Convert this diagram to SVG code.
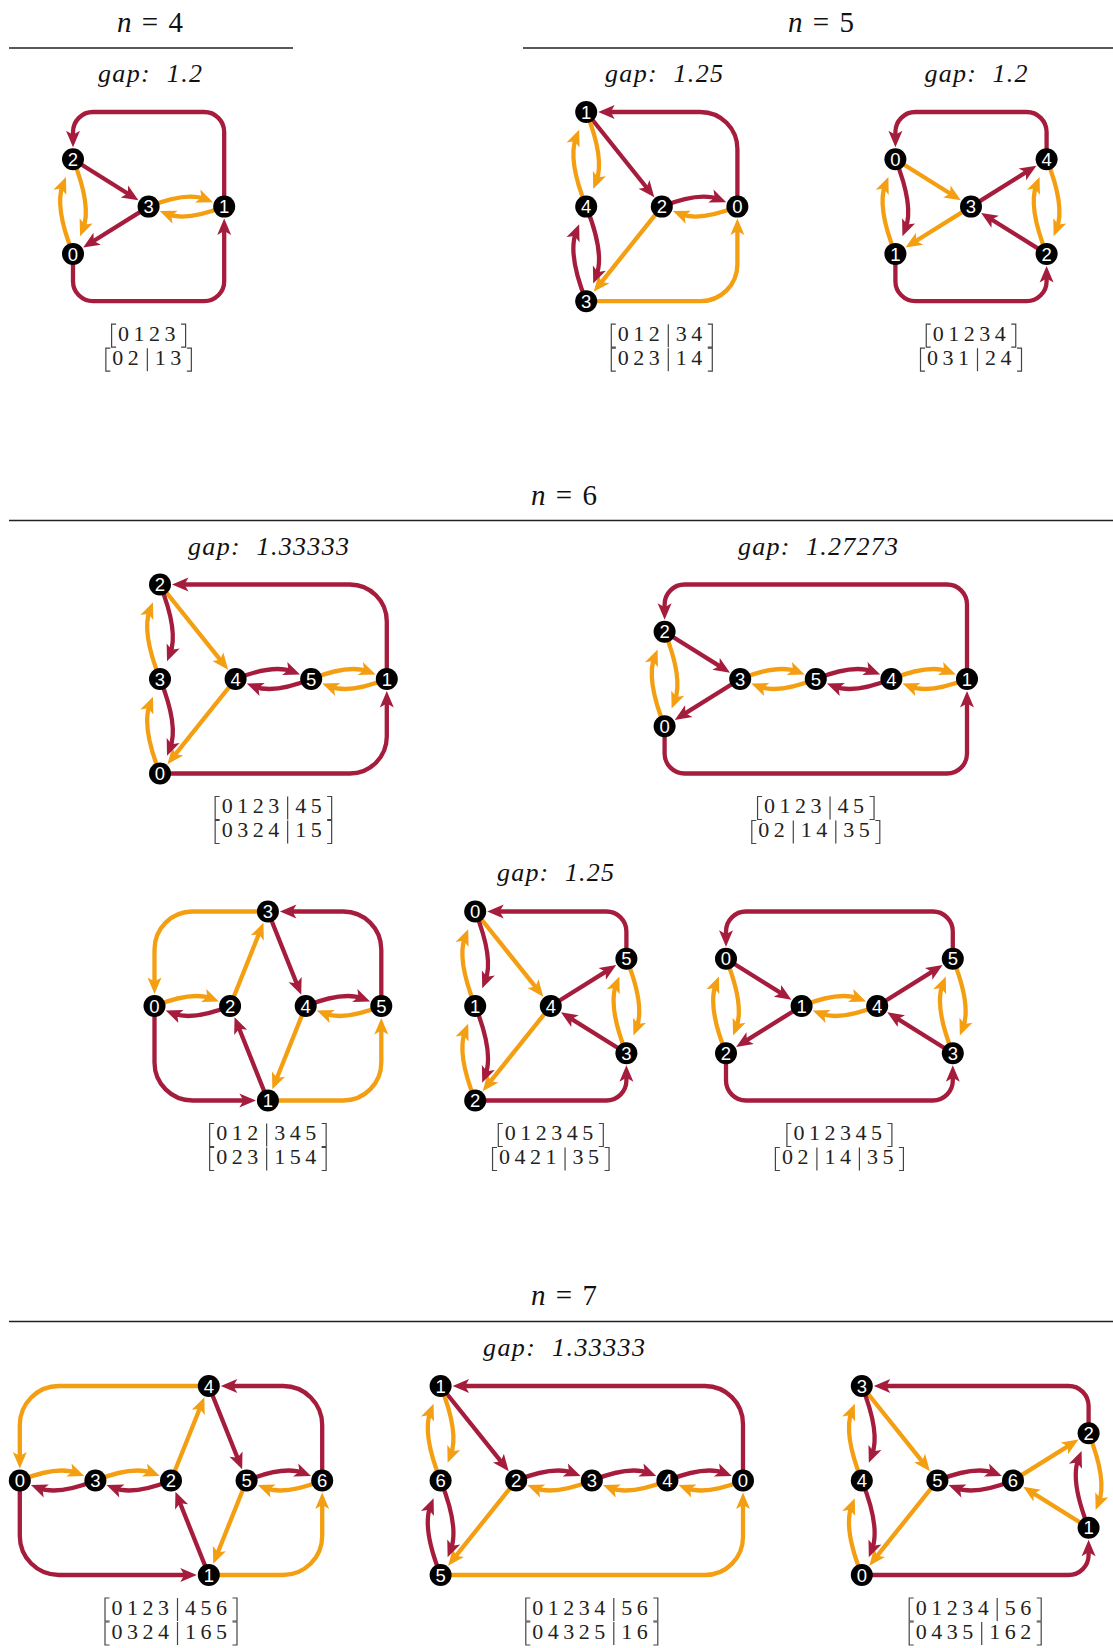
<svg xmlns="http://www.w3.org/2000/svg" xmlns:xlink="http://www.w3.org/1999/xlink" width="1113" height="1648" viewBox="0 0 1113 1648">
<style>
.e{fill:none;stroke-width:4.3}
.r{stroke:#a51c3c;marker-end:url(#ar)}
.o{stroke:#f49e12;marker-end:url(#ao)}
.nd circle{fill:#000}
.nd text{fill:#fff;font-family:"Liberation Sans",Arial,sans-serif;font-size:18.5px;text-anchor:middle}
.hd{font-family:"Liberation Serif",serif;font-size:29px;word-spacing:3px;text-anchor:middle;fill:#111}
.gp{font-family:"Liberation Serif",serif;font-style:italic;font-size:26px;text-anchor:middle;fill:#111}
.rule{stroke:#222;stroke-width:1.4}
.mx text{font-family:"Liberation Serif",serif;font-size:22px;letter-spacing:4.5px;fill:#222}
</style>
<defs>
<marker id="ar" viewBox="-18 -9 28 18" refX="-8" refY="0" markerWidth="28" markerHeight="18" markerUnits="userSpaceOnUse" orient="auto" overflow="visible"><path d="M0,0L-16.5,-7L-12.5,0L-16.5,7Z" fill="#a51c3c"/></marker>
<marker id="ao" viewBox="-18 -9 28 18" refX="-8" refY="0" markerWidth="28" markerHeight="18" markerUnits="userSpaceOnUse" orient="auto" overflow="visible"><path d="M0,0L-16.5,-7L-12.5,0L-16.5,7Z" fill="#f49e12"/></marker>
<path id="lb" d="M4.5,-16.5H0V6.5H4.5" fill="none" stroke="#444" stroke-width="1.2"/>
<path id="rb" d="M-4.5,-16.5H0V6.5H-4.5" fill="none" stroke="#444" stroke-width="1.2"/>
<path id="bar" d="M0,-16.5V6.5" fill="none" stroke="#444" stroke-width="1.2"/>
</defs>
<rect width="1113" height="1648" fill="#fff"/>

<!-- section headings and rules -->
<g id="headings">
<text class="hd" x="150" y="32"><tspan font-style="italic">n</tspan> = 4</text>
<text class="hd" x="821" y="32"><tspan font-style="italic">n</tspan> = 5</text>
<text class="hd" x="564" y="504.5"><tspan font-style="italic">n</tspan> = 6</text>
<text class="hd" x="564" y="1305"><tspan font-style="italic">n</tspan> = 7</text>
<line class="rule" x1="9" y1="48" x2="293" y2="48"/>
<line class="rule" x1="523" y1="48" x2="1113" y2="48"/>
<line class="rule" x1="9" y1="520.5" x2="1113" y2="520.5"/>
<line class="rule" x1="9" y1="1321.5" x2="1113" y2="1321.5"/>
<text class="gp" x="150" y="82" textLength="104">gap:&#160;&#160;1.2</text>
<text class="gp" x="664" y="82" textLength="118">gap:&#160;&#160;1.25</text>
<text class="gp" x="976" y="82" textLength="103">gap:&#160;&#160;1.2</text>
<text class="gp" x="268.5" y="554.5" textLength="161">gap:&#160;&#160;1.33333</text>
<text class="gp" x="818" y="554.5" textLength="160">gap:&#160;&#160;1.27273</text>
<text class="gp" x="555.5" y="881" textLength="117">gap:&#160;&#160;1.25</text>
<text class="gp" x="564" y="1356" textLength="162">gap:&#160;&#160;1.33333</text>
</g>

<g id="connectors">
<!-- n=4 -->
<g id="c1">
<path class="e r" d="M224.2,206.6V132A20,20 0 0 0 204.2,112H93A20,20 0 0 0 73,132V139.3"/>
<path class="e r" d="M73,253.9V281.2A20,20 0 0 0 93,301.2H204.2A20,20 0 0 0 224.2,281.2V226.6"/>
<path class="e r" d="M73,159.3L131.65,195.99"/>
<path class="e r" d="M148.6,206.6L89.95,243.29"/>
<path class="e o" d="M148.6,206.6Q186.4,191.5 205.6,199.2"/>
<path class="e o" d="M224.2,206.6Q186.4,221.7 167.2,214"/>
<path class="e o" d="M73,253.9Q54.1,206.6 63,184.4"/>
<path class="e o" d="M73,159.3Q91.9,206.6 83,228.8"/>
</g>
<!-- n=5, gap 1.25 -->
<g id="c2">
<path class="e r" d="M737.4,206.6V149A37,37 0 0 0 700.4,112H606.2"/>
<path class="e o" d="M586.2,301.2H700.4A37,37 0 0 0 737.4,264.2V226.6"/>
<path class="e r" d="M586.2,112L649.31,190.98"/>
<path class="e r" d="M661.8,206.6Q699.6,191.5 718.8,199.2"/>
<path class="e o" d="M737.4,206.6Q699.6,221.7 680.4,214"/>
<path class="e o" d="M661.8,206.6L598.69,285.58"/>
<path class="e o" d="M586.2,206.6Q567.3,159.3 576.2,137.1"/>
<path class="e o" d="M586.2,112Q605.1,159.3 596.2,181.5"/>
<path class="e r" d="M586.2,301.2Q567.3,253.9 576.2,231.7"/>
<path class="e r" d="M586.2,206.6Q605.1,253.9 596.2,276.1"/>
</g>
<!-- n=5, gap 1.2 -->
<g id="c3">
<path class="e r" d="M1046.6,159.3V132A20,20 0 0 0 1026.6,112H915.4A20,20 0 0 0 895.4,132V139.3"/>
<path class="e r" d="M895.4,253.9V281.2A20,20 0 0 0 915.4,301.2H1026.6A20,20 0 0 0 1046.6,281.2V273.9"/>
<path class="e o" d="M895.4,159.3L954.05,195.99"/>
<path class="e r" d="M971,206.6L1029.65,169.91"/>
<path class="e o" d="M971,206.6L912.35,243.29"/>
<path class="e r" d="M1046.6,253.9L987.95,217.21"/>
<path class="e o" d="M895.4,253.9Q876.5,206.6 885.4,184.4"/>
<path class="e r" d="M895.4,159.3Q914.3,206.6 905.4,228.8"/>
<path class="e o" d="M1046.6,253.9Q1027.7,206.6 1036.6,184.4"/>
<path class="e o" d="M1046.6,159.3Q1065.5,206.6 1056.6,228.8"/>
</g>
<!-- n=6, gap 1.33333 -->
<g id="c4">
<path class="e r" d="M386.8,679V621.5A37,37 0 0 0 349.8,584.5H180"/>
<path class="e r" d="M160,773.5H349.8A37,37 0 0 0 386.8,736.5V699"/>
<path class="e o" d="M160,584.5L223.11,663.38"/>
<path class="e o" d="M235.6,679L172.49,757.88"/>
<path class="e o" d="M160,679Q141.1,631.75 150,609.6"/>
<path class="e r" d="M160,584.5Q178.9,631.75 170,653.9"/>
<path class="e o" d="M160,773.5Q141.1,726.25 150,704.1"/>
<path class="e r" d="M160,679Q178.9,726.25 170,748.4"/>
<path class="e r" d="M235.6,679Q273.4,663.9 292.6,671.6"/>
<path class="e r" d="M311.2,679Q273.4,694.1 254.2,686.4"/>
<path class="e o" d="M311.2,679Q349,663.9 368.2,671.6"/>
<path class="e o" d="M386.8,679Q349,694.1 329.8,686.4"/>
</g>
<!-- n=6, gap 1.27273 -->
<g id="c5">
<path class="e r" d="M967,679V604.5A20,20 0 0 0 947,584.5H684.6A20,20 0 0 0 664.6,604.5V611.75"/>
<path class="e r" d="M664.6,726.25V753.5A20,20 0 0 0 684.6,773.5H947A20,20 0 0 0 967,753.5V699"/>
<path class="e r" d="M664.6,631.75L723.25,668.39"/>
<path class="e r" d="M740.2,679L681.55,715.64"/>
<path class="e o" d="M664.6,726.25Q645.7,679 654.6,656.85"/>
<path class="e o" d="M664.6,631.75Q683.5,679 674.6,701.15"/>
<path class="e o" d="M740.2,679Q778,663.9 797.2,671.6"/>
<path class="e o" d="M815.8,679Q778,694.1 758.8,686.4"/>
<path class="e r" d="M815.8,679Q853.6,663.9 872.8,671.6"/>
<path class="e r" d="M891.4,679Q853.6,694.1 834.4,686.4"/>
<path class="e o" d="M891.4,679Q929.2,663.9 948.4,671.6"/>
<path class="e o" d="M967,679Q929.2,694.1 910,686.4"/>
</g>
<!-- n=6, gap 1.25, left -->
<g id="c6">
<path class="e o" d="M267.9,911.5H192.5A38,38 0 0 0 154.5,949.5V986"/>
<path class="e r" d="M381.3,1006V949.5A38,38 0 0 0 343.3,911.5H287.9"/>
<path class="e r" d="M154.5,1006V1062.5A38,38 0 0 0 192.5,1100.5H247.9"/>
<path class="e o" d="M267.9,1100.5H343.3A38,38 0 0 0 381.3,1062.5V1026"/>
<path class="e o" d="M230.1,1006L260.48,930.07"/>
<path class="e r" d="M267.9,911.5L298.28,987.43"/>
<path class="e o" d="M305.7,1006L275.32,1081.93"/>
<path class="e r" d="M267.9,1100.5L237.52,1024.57"/>
<path class="e o" d="M154.5,1006Q192.3,990.9 211.5,998.6"/>
<path class="e r" d="M230.1,1006Q192.3,1021.1 173.1,1013.4"/>
<path class="e r" d="M305.7,1006Q343.5,990.9 362.7,998.6"/>
<path class="e o" d="M381.3,1006Q343.5,1021.1 324.3,1013.4"/>
</g>
<!-- n=6, gap 1.25, middle -->
<g id="c7">
<path class="e r" d="M626.4,958.75V931.5A20,20 0 0 0 606.4,911.5H495.2"/>
<path class="e r" d="M475.2,1100.5H606.4A20,20 0 0 0 626.4,1080.5V1073.25"/>
<path class="e o" d="M475.2,911.5L538.31,990.38"/>
<path class="e r" d="M550.8,1006L609.45,969.36"/>
<path class="e o" d="M550.8,1006L487.69,1084.88"/>
<path class="e r" d="M626.4,1053.25L567.75,1016.61"/>
<path class="e o" d="M475.2,1006Q456.3,958.75 465.2,936.6"/>
<path class="e r" d="M475.2,911.5Q494.1,958.75 485.2,980.9"/>
<path class="e o" d="M475.2,1100.5Q456.3,1053.25 465.2,1031.1"/>
<path class="e r" d="M475.2,1006Q494.1,1053.25 485.2,1075.4"/>
<path class="e o" d="M626.4,1053.25Q607.5,1006 616.4,983.85"/>
<path class="e o" d="M626.4,958.75Q645.3,1006 636.4,1028.15"/>
</g>
<!-- n=6, gap 1.25, right -->
<g id="c8">
<path class="e r" d="M952.8,958.75V931.5A20,20 0 0 0 932.8,911.5H746A20,20 0 0 0 726,931.5V938.75"/>
<path class="e r" d="M726,1053.25V1080.5A20,20 0 0 0 746,1100.5H932.8A20,20 0 0 0 952.8,1080.5V1073.25"/>
<path class="e r" d="M726,958.75L784.65,995.39"/>
<path class="e r" d="M801.6,1006L742.95,1042.64"/>
<path class="e r" d="M877.2,1006L935.85,969.36"/>
<path class="e r" d="M952.8,1053.25L894.15,1016.61"/>
<path class="e o" d="M801.6,1006Q839.4,990.9 858.6,998.6"/>
<path class="e o" d="M877.2,1006Q839.4,1021.1 820.2,1013.4"/>
<path class="e o" d="M726,1053.25Q707.1,1006 716,983.85"/>
<path class="e o" d="M726,958.75Q744.9,1006 736,1028.15"/>
<path class="e o" d="M952.8,1053.25Q933.9,1006 942.8,983.85"/>
<path class="e o" d="M952.8,958.75Q971.7,1006 962.8,1028.15"/>
</g>
<!-- n=7, left -->
<g id="c9">
<path class="e o" d="M208.8,1386H58.8A39,39 0 0 0 19.8,1425V1460.5"/>
<path class="e r" d="M322.2,1480.5V1425A39,39 0 0 0 283.2,1386H228.8"/>
<path class="e r" d="M19.8,1480.5V1536A39,39 0 0 0 58.8,1575H188.8"/>
<path class="e o" d="M208.8,1575H283.2A39,39 0 0 0 322.2,1536V1500.5"/>
<path class="e o" d="M171,1480.5L201.38,1404.57"/>
<path class="e r" d="M208.8,1386L239.18,1461.93"/>
<path class="e o" d="M246.6,1480.5L216.22,1556.43"/>
<path class="e r" d="M208.8,1575L178.42,1499.07"/>
<path class="e o" d="M19.8,1480.5Q57.6,1465.4 76.8,1473.1"/>
<path class="e r" d="M95.4,1480.5Q57.6,1495.6 38.4,1487.9"/>
<path class="e o" d="M95.4,1480.5Q133.2,1465.4 152.4,1473.1"/>
<path class="e r" d="M171,1480.5Q133.2,1495.6 114,1487.9"/>
<path class="e r" d="M246.6,1480.5Q284.4,1465.4 303.6,1473.1"/>
<path class="e o" d="M322.2,1480.5Q284.4,1495.6 265.2,1487.9"/>
</g>
<!-- n=7, middle -->
<g id="c10">
<path class="e r" d="M743,1480.5V1424A38,38 0 0 0 705,1386H460.6"/>
<path class="e o" d="M440.6,1575H705A38,38 0 0 0 743,1537V1500.5"/>
<path class="e r" d="M440.6,1386L503.71,1464.88"/>
<path class="e o" d="M516.2,1480.5L453.09,1559.38"/>
<path class="e o" d="M440.6,1480.5Q421.7,1433.25 430.6,1411.1"/>
<path class="e o" d="M440.6,1386Q459.5,1433.25 450.6,1455.4"/>
<path class="e r" d="M440.6,1575Q421.7,1527.75 430.6,1505.6"/>
<path class="e r" d="M440.6,1480.5Q459.5,1527.75 450.6,1549.9"/>
<path class="e r" d="M516.2,1480.5Q554,1465.4 573.2,1473.1"/>
<path class="e o" d="M591.8,1480.5Q554,1495.6 534.8,1487.9"/>
<path class="e r" d="M591.8,1480.5Q629.6,1465.4 648.8,1473.1"/>
<path class="e o" d="M667.4,1480.5Q629.6,1495.6 610.4,1487.9"/>
<path class="e r" d="M667.4,1480.5Q705.2,1465.4 724.4,1473.1"/>
<path class="e o" d="M743,1480.5Q705.2,1495.6 686,1487.9"/>
</g>
<!-- n=7, right -->
<g id="c11">
<path class="e r" d="M1088.6,1433.25V1406A20,20 0 0 0 1068.6,1386H881.8"/>
<path class="e r" d="M861.8,1575H1068.6A20,20 0 0 0 1088.6,1555V1547.75"/>
<path class="e o" d="M861.8,1386L924.91,1464.88"/>
<path class="e o" d="M937.4,1480.5L874.29,1559.38"/>
<path class="e o" d="M1013,1480.5L1071.65,1443.86"/>
<path class="e o" d="M1088.6,1527.75L1029.95,1491.11"/>
<path class="e o" d="M861.8,1480.5Q842.9,1433.25 851.8,1411.1"/>
<path class="e r" d="M861.8,1386Q880.7,1433.25 871.8,1455.4"/>
<path class="e o" d="M861.8,1575Q842.9,1527.75 851.8,1505.6"/>
<path class="e r" d="M861.8,1480.5Q880.7,1527.75 871.8,1549.9"/>
<path class="e r" d="M937.4,1480.5Q975.2,1465.4 994.4,1473.1"/>
<path class="e r" d="M1013,1480.5Q975.2,1495.6 956,1487.9"/>
<path class="e r" d="M1088.6,1527.75Q1069.7,1480.5 1078.6,1458.35"/>
<path class="e o" d="M1088.6,1433.25Q1107.5,1480.5 1098.6,1502.65"/>
</g>
</g>

<!-- nodes -->
<g id="nodes">
<g id="g1-n0" class="nd" transform="translate(73,253.9)"><circle r="11"/><text y="6.6">0</text></g>
<g id="g1-n1" class="nd" transform="translate(224.2,206.6)"><circle r="11"/><text y="6.6">1</text></g>
<g id="g1-n2" class="nd" transform="translate(73,159.3)"><circle r="11"/><text y="6.6">2</text></g>
<g id="g1-n3" class="nd" transform="translate(148.6,206.6)"><circle r="11"/><text y="6.6">3</text></g>

<g id="g2-n0" class="nd" transform="translate(737.4,206.6)"><circle r="11"/><text y="6.6">0</text></g>
<g id="g2-n1" class="nd" transform="translate(586.2,112)"><circle r="11"/><text y="6.6">1</text></g>
<g id="g2-n2" class="nd" transform="translate(661.8,206.6)"><circle r="11"/><text y="6.6">2</text></g>
<g id="g2-n3" class="nd" transform="translate(586.2,301.2)"><circle r="11"/><text y="6.6">3</text></g>
<g id="g2-n4" class="nd" transform="translate(586.2,206.6)"><circle r="11"/><text y="6.6">4</text></g>

<g id="g3-n0" class="nd" transform="translate(895.4,159.3)"><circle r="11"/><text y="6.6">0</text></g>
<g id="g3-n1" class="nd" transform="translate(895.4,253.9)"><circle r="11"/><text y="6.6">1</text></g>
<g id="g3-n2" class="nd" transform="translate(1046.6,253.9)"><circle r="11"/><text y="6.6">2</text></g>
<g id="g3-n3" class="nd" transform="translate(971,206.6)"><circle r="11"/><text y="6.6">3</text></g>
<g id="g3-n4" class="nd" transform="translate(1046.6,159.3)"><circle r="11"/><text y="6.6">4</text></g>

<g id="g4-n0" class="nd" transform="translate(160,773.5)"><circle r="11"/><text y="6.6">0</text></g>
<g id="g4-n1" class="nd" transform="translate(386.8,679)"><circle r="11"/><text y="6.6">1</text></g>
<g id="g4-n2" class="nd" transform="translate(160,584.5)"><circle r="11"/><text y="6.6">2</text></g>
<g id="g4-n3" class="nd" transform="translate(160,679)"><circle r="11"/><text y="6.6">3</text></g>
<g id="g4-n4" class="nd" transform="translate(235.6,679)"><circle r="11"/><text y="6.6">4</text></g>
<g id="g4-n5" class="nd" transform="translate(311.2,679)"><circle r="11"/><text y="6.6">5</text></g>

<g id="g5-n0" class="nd" transform="translate(664.6,726.25)"><circle r="11"/><text y="6.6">0</text></g>
<g id="g5-n1" class="nd" transform="translate(967,679)"><circle r="11"/><text y="6.6">1</text></g>
<g id="g5-n2" class="nd" transform="translate(664.6,631.75)"><circle r="11"/><text y="6.6">2</text></g>
<g id="g5-n3" class="nd" transform="translate(740.2,679)"><circle r="11"/><text y="6.6">3</text></g>
<g id="g5-n4" class="nd" transform="translate(891.4,679)"><circle r="11"/><text y="6.6">4</text></g>
<g id="g5-n5" class="nd" transform="translate(815.8,679)"><circle r="11"/><text y="6.6">5</text></g>

<g id="g6-n0" class="nd" transform="translate(154.5,1006)"><circle r="11"/><text y="6.6">0</text></g>
<g id="g6-n1" class="nd" transform="translate(267.9,1100.5)"><circle r="11"/><text y="6.6">1</text></g>
<g id="g6-n2" class="nd" transform="translate(230.1,1006)"><circle r="11"/><text y="6.6">2</text></g>
<g id="g6-n3" class="nd" transform="translate(267.9,911.5)"><circle r="11"/><text y="6.6">3</text></g>
<g id="g6-n4" class="nd" transform="translate(305.7,1006)"><circle r="11"/><text y="6.6">4</text></g>
<g id="g6-n5" class="nd" transform="translate(381.3,1006)"><circle r="11"/><text y="6.6">5</text></g>

<g id="g7-n0" class="nd" transform="translate(475.2,911.5)"><circle r="11"/><text y="6.6">0</text></g>
<g id="g7-n1" class="nd" transform="translate(475.2,1006)"><circle r="11"/><text y="6.6">1</text></g>
<g id="g7-n2" class="nd" transform="translate(475.2,1100.5)"><circle r="11"/><text y="6.6">2</text></g>
<g id="g7-n3" class="nd" transform="translate(626.4,1053.25)"><circle r="11"/><text y="6.6">3</text></g>
<g id="g7-n4" class="nd" transform="translate(550.8,1006)"><circle r="11"/><text y="6.6">4</text></g>
<g id="g7-n5" class="nd" transform="translate(626.4,958.75)"><circle r="11"/><text y="6.6">5</text></g>

<g id="g8-n0" class="nd" transform="translate(726,958.75)"><circle r="11"/><text y="6.6">0</text></g>
<g id="g8-n1" class="nd" transform="translate(801.6,1006)"><circle r="11"/><text y="6.6">1</text></g>
<g id="g8-n2" class="nd" transform="translate(726,1053.25)"><circle r="11"/><text y="6.6">2</text></g>
<g id="g8-n3" class="nd" transform="translate(952.8,1053.25)"><circle r="11"/><text y="6.6">3</text></g>
<g id="g8-n4" class="nd" transform="translate(877.2,1006)"><circle r="11"/><text y="6.6">4</text></g>
<g id="g8-n5" class="nd" transform="translate(952.8,958.75)"><circle r="11"/><text y="6.6">5</text></g>

<g id="g9-n0" class="nd" transform="translate(19.8,1480.5)"><circle r="11"/><text y="6.6">0</text></g>
<g id="g9-n1" class="nd" transform="translate(208.8,1575)"><circle r="11"/><text y="6.6">1</text></g>
<g id="g9-n2" class="nd" transform="translate(171,1480.5)"><circle r="11"/><text y="6.6">2</text></g>
<g id="g9-n3" class="nd" transform="translate(95.4,1480.5)"><circle r="11"/><text y="6.6">3</text></g>
<g id="g9-n4" class="nd" transform="translate(208.8,1386)"><circle r="11"/><text y="6.6">4</text></g>
<g id="g9-n5" class="nd" transform="translate(246.6,1480.5)"><circle r="11"/><text y="6.6">5</text></g>
<g id="g9-n6" class="nd" transform="translate(322.2,1480.5)"><circle r="11"/><text y="6.6">6</text></g>

<g id="g10-n0" class="nd" transform="translate(743,1480.5)"><circle r="11"/><text y="6.6">0</text></g>
<g id="g10-n1" class="nd" transform="translate(440.6,1386)"><circle r="11"/><text y="6.6">1</text></g>
<g id="g10-n2" class="nd" transform="translate(516.2,1480.5)"><circle r="11"/><text y="6.6">2</text></g>
<g id="g10-n3" class="nd" transform="translate(591.8,1480.5)"><circle r="11"/><text y="6.6">3</text></g>
<g id="g10-n4" class="nd" transform="translate(667.4,1480.5)"><circle r="11"/><text y="6.6">4</text></g>
<g id="g10-n5" class="nd" transform="translate(440.6,1575)"><circle r="11"/><text y="6.6">5</text></g>
<g id="g10-n6" class="nd" transform="translate(440.6,1480.5)"><circle r="11"/><text y="6.6">6</text></g>

<g id="g11-n0" class="nd" transform="translate(861.8,1575)"><circle r="11"/><text y="6.6">0</text></g>
<g id="g11-n1" class="nd" transform="translate(1088.6,1527.75)"><circle r="11"/><text y="6.6">1</text></g>
<g id="g11-n2" class="nd" transform="translate(1088.6,1433.25)"><circle r="11"/><text y="6.6">2</text></g>
<g id="g11-n3" class="nd" transform="translate(861.8,1386)"><circle r="11"/><text y="6.6">3</text></g>
<g id="g11-n4" class="nd" transform="translate(861.8,1480.5)"><circle r="11"/><text y="6.6">4</text></g>
<g id="g11-n5" class="nd" transform="translate(937.4,1480.5)"><circle r="11"/><text y="6.6">5</text></g>
<g id="g11-n6" class="nd" transform="translate(1013,1480.5)"><circle r="11"/><text y="6.6">6</text></g>
</g>

<!-- partition labels under each graph -->
<g id="labels">
<g class="mx" transform="translate(111.6,340.7)"><use href="#lb"/><use href="#rb" x="74"/><text x="6.5">0123</text></g>
<g class="mx" transform="translate(105.85,364.7)"><use href="#lb"/><use href="#rb" x="85.5"/><use href="#bar" x="41.5"/><text x="6.5">02</text><text x="49">13</text></g>

<g class="mx" transform="translate(611.3,340.7)"><use href="#lb"/><use href="#rb" x="101"/><use href="#bar" x="57"/><text x="6.5">012</text><text x="64.5">34</text></g>
<g class="mx" transform="translate(611.3,364.7)"><use href="#lb"/><use href="#rb" x="101"/><use href="#bar" x="57"/><text x="6.5">023</text><text x="64.5">14</text></g>

<g class="mx" transform="translate(926.25,340.7)"><use href="#lb"/><use href="#rb" x="89.5"/><text x="6.5">01234</text></g>
<g class="mx" transform="translate(920.5,364.7)"><use href="#lb"/><use href="#rb" x="101"/><use href="#bar" x="57"/><text x="6.5">031</text><text x="64.5">24</text></g>

<g class="mx" transform="translate(215.15,813)"><use href="#lb"/><use href="#rb" x="116.5"/><use href="#bar" x="72.5"/><text x="6.5">0123</text><text x="80">45</text></g>
<g class="mx" transform="translate(215.15,837)"><use href="#lb"/><use href="#rb" x="116.5"/><use href="#bar" x="72.5"/><text x="6.5">0324</text><text x="80">15</text></g>

<g class="mx" transform="translate(757.55,813)"><use href="#lb"/><use href="#rb" x="116.5"/><use href="#bar" x="72.5"/><text x="6.5">0123</text><text x="80">45</text></g>
<g class="mx" transform="translate(751.8,837)"><use href="#lb"/><use href="#rb" x="128"/><use href="#bar" x="41.5"/><use href="#bar" x="84"/><text x="6.5">02</text><text x="49">14</text><text x="91.5">35</text></g>

<g class="mx" transform="translate(209.65,1140)"><use href="#lb"/><use href="#rb" x="116.5"/><use href="#bar" x="57"/><text x="6.5">012</text><text x="64.5">345</text></g>
<g class="mx" transform="translate(209.65,1164)"><use href="#lb"/><use href="#rb" x="116.5"/><use href="#bar" x="57"/><text x="6.5">023</text><text x="64.5">154</text></g>

<g class="mx" transform="translate(498.3,1140)"><use href="#lb"/><use href="#rb" x="105"/><text x="6.5">012345</text></g>
<g class="mx" transform="translate(492.55,1164)"><use href="#lb"/><use href="#rb" x="116.5"/><use href="#bar" x="72.5"/><text x="6.5">0421</text><text x="80">35</text></g>

<g class="mx" transform="translate(786.9,1140)"><use href="#lb"/><use href="#rb" x="105"/><text x="6.5">012345</text></g>
<g class="mx" transform="translate(775.4,1164)"><use href="#lb"/><use href="#rb" x="128"/><use href="#bar" x="41.5"/><use href="#bar" x="84"/><text x="6.5">02</text><text x="49">14</text><text x="91.5">35</text></g>

<g class="mx" transform="translate(105,1614.5)"><use href="#lb"/><use href="#rb" x="132"/><use href="#bar" x="72.5"/><text x="6.5">0123</text><text x="80">456</text></g>
<g class="mx" transform="translate(105,1638.5)"><use href="#lb"/><use href="#rb" x="132"/><use href="#bar" x="72.5"/><text x="6.5">0324</text><text x="80">165</text></g>

<g class="mx" transform="translate(525.8,1614.5)"><use href="#lb"/><use href="#rb" x="132"/><use href="#bar" x="88"/><text x="6.5">01234</text><text x="95.5">56</text></g>
<g class="mx" transform="translate(525.8,1638.5)"><use href="#lb"/><use href="#rb" x="132"/><use href="#bar" x="88"/><text x="6.5">04325</text><text x="95.5">16</text></g>

<g class="mx" transform="translate(909.2,1614.5)"><use href="#lb"/><use href="#rb" x="132"/><use href="#bar" x="88"/><text x="6.5">01234</text><text x="95.5">56</text></g>
<g class="mx" transform="translate(909.2,1638.5)"><use href="#lb"/><use href="#rb" x="132"/><use href="#bar" x="72.5"/><text x="6.5">0435</text><text x="80">162</text></g>
</g>
</svg>
